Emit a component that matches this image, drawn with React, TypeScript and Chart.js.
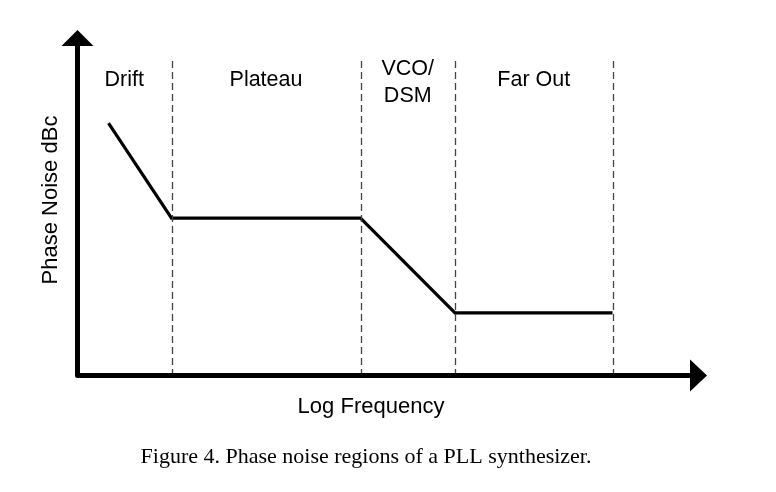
import React, { useEffect, useRef } from "react";
import { Chart, registerables } from "chart.js";

Chart.register(...registerables);

// Log-frequency positions of the curve's corner points (arbitrary decades)
const curveFreq = [0.5, 1.5, 4.5, 6.0, 8.5];
// Phase noise level at those points (relative dBc units)
const curveNoise = [73, 45.5, 45.5, 18, 18];
// Region boundaries (dashed lines), in log frequency
const regionBounds = [1.5, 4.5, 6.0, 8.5];
const dashTop = 91;
// Region labels (each may have several lines)
const regionLabels = [["Drift"], ["Plateau"], ["VCO/", "DSM"], ["Far Out"]];
const xTitle = "Log Frequency";
const yTitle = "Phase Noise dBc";
const caption = "Figure 4. Phase noise regions of a PLL synthesizer.";

const SANS = '"Liberation Sans", Arial, sans-serif';
const SERIF = '"Liberation Serif", "Times New Roman", serif';

const decorPlugin = {
  id: "decor",
  afterDraw(chart: any) {
    const { ctx, chartArea, scales } = chart;
    const xs = scales.x;
    const ys = scales.y;
    const ax = chartArea.left + 0.5;
    const ay = chartArea.bottom + 0.5;
    ctx.save();

    // dashed region boundaries
    ctx.strokeStyle = "#444";
    ctx.lineWidth = 1.3;
    ctx.setLineDash([7, 4]);
    for (const b of regionBounds) {
      const px = Math.round(xs.getPixelForValue(b)) + 0.5;
      ctx.beginPath();
      ctx.moveTo(px, ys.getPixelForValue(dashTop));
      ctx.lineTo(px, ay);
      ctx.stroke();
    }
    ctx.setLineDash([]);

    // axes
    ctx.strokeStyle = "#000";
    ctx.fillStyle = "#000";
    ctx.lineWidth = 5;
    ctx.lineJoin = "round";
    ctx.lineCap = "butt";
    ctx.beginPath();
    ctx.moveTo(ax, chartArea.top + 14);
    ctx.lineTo(ax, ay);
    ctx.lineTo(chartArea.right - 14, ay);
    ctx.stroke();
    // arrowheads
    ctx.beginPath();
    ctx.moveTo(ax, chartArea.top);
    ctx.lineTo(ax - 16, chartArea.top + 16);
    ctx.lineTo(ax + 16, chartArea.top + 16);
    ctx.closePath();
    ctx.fill();
    ctx.beginPath();
    ctx.moveTo(chartArea.right, ay);
    ctx.lineTo(chartArea.right - 17, ay - 16);
    ctx.lineTo(chartArea.right - 17, ay + 16);
    ctx.closePath();
    ctx.fill();

    // region labels
    ctx.font = "21.5px " + SANS;
    ctx.textAlign = "center";
    ctx.textBaseline = "alphabetic";
    const edges = [0, ...regionBounds];
    regionLabels.forEach((lines, i) => {
      const cx = (xs.getPixelForValue(edges[i]) + xs.getPixelForValue(edges[i + 1])) / 2;
      const startY = lines.length > 1 ? 75 : 86;
      lines.forEach((t, j) => ctx.fillText(t, cx, startY + j * 27));
    });

    // axis titles
    ctx.font = "22px " + SANS;
    ctx.fillText(xTitle, 371, 413);
    ctx.save();
    ctx.translate(57, 200);
    ctx.rotate(-Math.PI / 2);
    ctx.fillText(yTitle, 0, 0);
    ctx.restore();

    // caption
    ctx.font = "22px " + SERIF;
    ctx.fillText(caption, 366, 463);
    ctx.restore();
  },
};

export default function App() {
  const ref = useRef<HTMLCanvasElement>(null);
  useEffect(() => {
    const chart = new Chart(ref.current!, {
      type: "line",
      data: {
        datasets: [
          {
            data: curveFreq.map((f, i) => ({ x: f, y: curveNoise[i] })),
            borderColor: "#000",
            borderWidth: 3.2,
            borderJoinStyle: "miter",
            pointRadius: 0,
            tension: 0,
            fill: false,
          },
        ],
      },
      options: {
        responsive: false,
        animation: false,
        layout: { padding: { left: 77, top: 30, right: 69, bottom: 117 } },
        plugins: { legend: { display: false }, tooltip: { enabled: false } },
        scales: {
          x: { type: "linear", min: 0, max: 10, display: false },
          y: { type: "linear", min: 0, max: 100, display: false },
        },
      },
      plugins: [decorPlugin],
    });
    return () => chart.destroy();
  }, []);
  return (
    <div style={{ position: "fixed", left: 0, top: 0, width: 776, height: 492, background: "#fff" }}>
      <canvas ref={ref} width={776} height={492} />
    </div>
  );
}
